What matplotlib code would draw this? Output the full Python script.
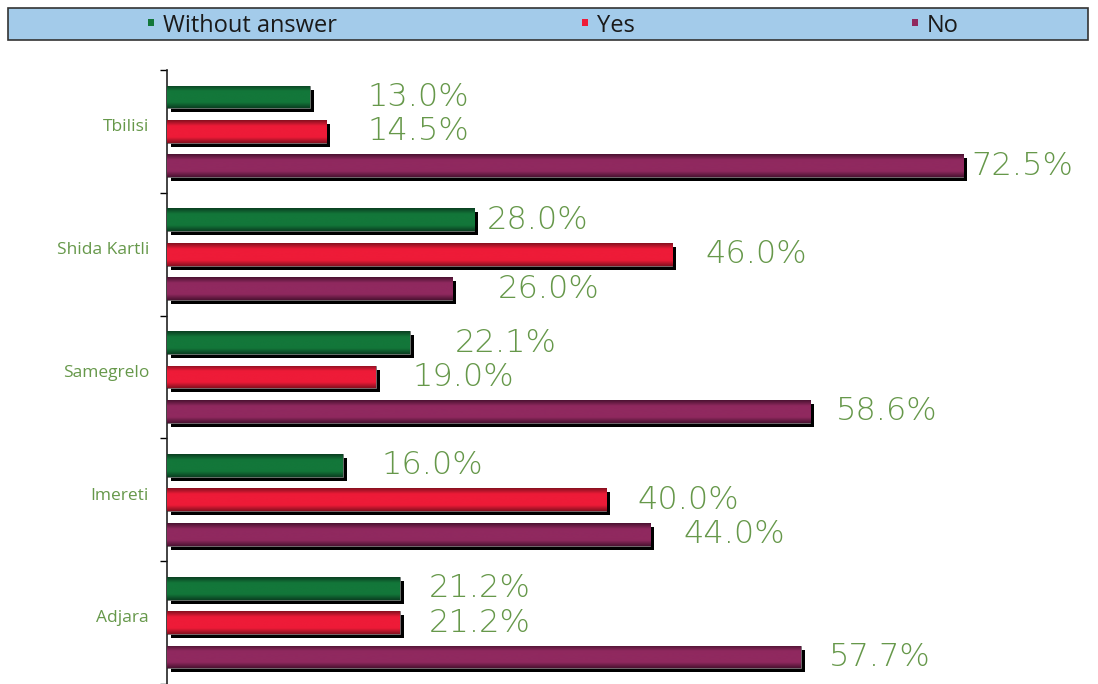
import numpy as np
import matplotlib.pyplot as plt
from matplotlib.colors import LinearSegmentedColormap
from matplotlib.patches import Rectangle

regions = ["Tbilisi", "Shida Kartli", "Samegrelo", "Imereti", "Adjara"]
series = ["Without answer", "Yes", "No"]
without_answer = [13.0, 28.0, 22.1, 16.0, 21.2]
yes = [14.5, 46.0, 19.0, 40.0, 21.2]
no = [72.5, 26.0, 58.6, 44.0, 57.7]

# where the value labels start (data units), as placed in the original
label_x = [
    [18.3, 29.1, 26.2, 19.5, 23.8],
    [18.3, 49.0, 22.4, 42.8, 23.8],
    [73.3, 30.1, 60.9, 47.0, 60.3],
]

base_colors = ["#13773a", "#ee1b38", "#90295f"]
dark_colors = ["#0a3f21", "#85101f", "#4a1231"]
label_color = "#66984a"

W, H = 1098, 684
fig = plt.figure(figsize=(W / 100, H / 100), dpi=100)
ax = fig.add_axes([167 / W, 0.0, 1 - 167 / W, (H - 70) / H])

values = [without_answer, yes, no]
offsets = [-0.28, 0.0, 0.28]
bar_h = 0.185
xmax = (W - 167) / 10.98
dx = 4 / 10.98
dy = 4 / 122.8

grad = np.linspace(0, 1, 64).reshape(-1, 1)
for k, vals in enumerate(values):
    cmap = LinearSegmentedColormap.from_list(
        f"g{k}",
        [dark_colors[k], base_colors[k], base_colors[k], base_colors[k], dark_colors[k]],
    )
    ys = np.arange(len(regions)) + 0.5 + offsets[k]
    # shadow
    ax.barh(ys + dy, vals, left=dx, height=bar_h, color="black", zorder=1)
    bars = ax.barh(ys, vals, height=bar_h, color=base_colors[k],
                   edgecolor="#777777", linewidth=0.6, zorder=2)
    for b, v, y in zip(bars, vals, ys):
        im = ax.imshow(grad, cmap=cmap, aspect="auto", zorder=3,
                       extent=(0, v, y + bar_h / 2, y - bar_h / 2),
                       interpolation="bicubic")
        im.set_clip_path(b)
    for v, lx, y in zip(vals, label_x[k], ys):
        ax.text(lx, y, f"{v:.1f}%", va="center", ha="left",
                fontsize=23, color=label_color, family="DejaVu Sans",
                fontweight="light")

ax.set_xlim(0, xmax)
ax.set_ylim(5, 0)

ax.set_yticks(np.arange(0, 6))
ax.set_yticklabels([])
ax.set_yticks(np.arange(len(regions)) + 0.45, minor=True)
ax.set_yticklabels(regions, minor=True, fontsize=12.5, color=label_color,
                   family="Open Sans")
ax.tick_params(axis="y", which="major", length=5, width=1, color="black")
ax.tick_params(axis="y", which="minor", length=0, pad=13)
ax.set_xticks([])
for side in ["top", "right", "bottom"]:
    ax.spines[side].set_visible(False)
ax.spines["left"].set_color("#222222")
ax.spines["left"].set_linewidth(1.2)

# legend band at top
fig.patches.append(Rectangle((8 / W, 1 - 40 / H), 1080 / W, 32 / H,
                             transform=fig.transFigure, facecolor="#a3cbea",
                             edgecolor="#333333", linewidth=1.2))
legend_x = [148, 582, 912]
for name, c, lx in zip(series, base_colors, legend_x):
    fig.patches.append(Rectangle((lx / W, 1 - 26 / H), 6 / W, 7 / H,
                                 transform=fig.transFigure, facecolor=c,
                                 edgecolor="none"))
    fig.text((lx + 15) / W, 1 - 26 / H, name, fontsize=17, color="#1a1a1a",
             va="center", ha="left", family="Open Sans")

fig.savefig("out.png", dpi=100)
